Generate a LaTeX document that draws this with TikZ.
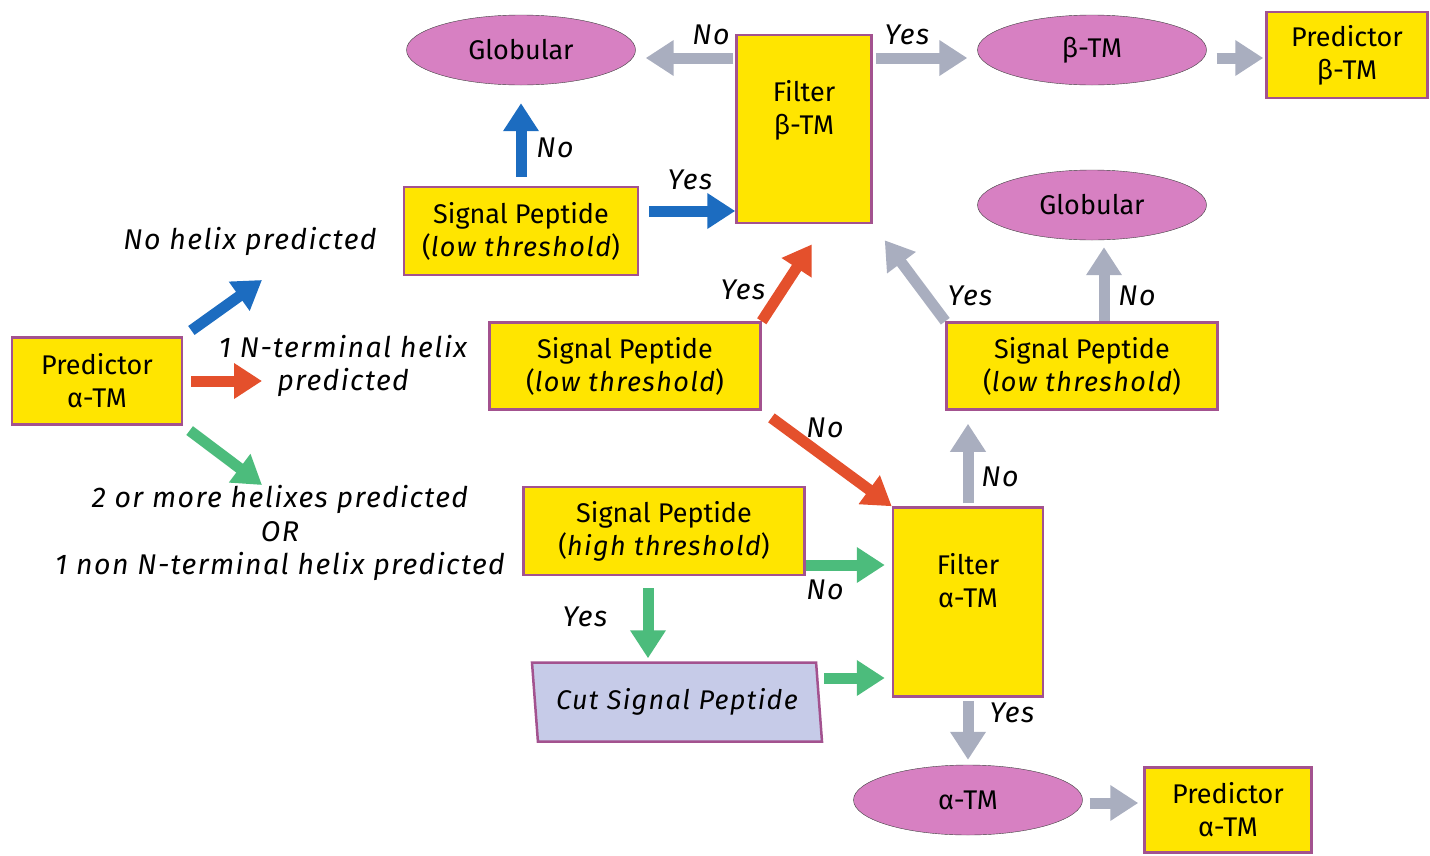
\documentclass[tikz,border=0pt]{standalone}
\usepackage{fontspec}
\setmainfont{Fira Sans}
\newfontfamily\lblfont[LetterSpace=5.0]{Fira Sans}
\usetikzlibrary{arrows.meta,shapes.geometric}

\definecolor{boxyellow}{HTML}{FFE500}
\definecolor{boxedge}{HTML}{A3528F}
\definecolor{ovalpink}{HTML}{D780C2}
\definecolor{cutblue}{HTML}{C6CBE8}
\definecolor{arrblue}{HTML}{1C6CC0}
\definecolor{arrred}{HTML}{E4502C}
\definecolor{arrgreen}{HTML}{4CBC7C}
\definecolor{arrgrey}{HTML}{A9AEBF}
\newcommand\diagfont{\fontsize{27}{33}\selectfont}
\newcommand\lblsize{\fontsize{28.5}{33.5}\selectfont}
\newcommand\slant[1]{{\lblfont\itshape #1}}

\begin{document}
\begin{tikzpicture}[x=1pt,y=-1pt,
      box/.style = {draw=boxedge, line width=2.5pt, fill=boxyellow, align=center, font=\diagfont},
      oval/.style = {ellipse, draw=black!75, thin, fill=ovalpink, minimum width=229pt, minimum height=70pt, font=\diagfont},
      flow/.style = {line width=11pt, -{Triangle[width=34pt,length=28pt]}},
      lbl/.style = {align=center, inner sep=0pt, font=\lblsize\lblfont\itshape}]
  \useasboundingbox (0,0) rectangle (1430,855);

  % Predictor alpha-TM (start)
  \node[box, minimum width=170pt, minimum height=87pt] (PA) at (97,381) {Predictor\\α-TM};

  % Top row
  \node[oval] (GB) at (521,50) {Globular};
  \node[box, minimum width=135pt, minimum height=188pt] (FB) at (804,129) {Filter\\β-TM\\\strut};
  \node[oval] (BT) at (1092,50) {β-TM};
  \node[box, minimum width=161pt, minimum height=86pt] (PB) at (1347,55) {Predictor\\β-TM};

  % Signal peptide boxes
  \node[box, minimum width=234pt, minimum height=88pt] (S1) at (521,231) {Signal Peptide\\(\slant{low threshold})};
  \node[oval] (GA) at (1092,205) {Globular};
  \node[box, minimum width=271pt, minimum height=87pt] (S2) at (625,366) {Signal Peptide\\(\slant{low threshold})};
  \node[box, minimum width=271pt, minimum height=87pt] (S3) at (1082,366) {Signal Peptide\\(\slant{low threshold})};
  \node[box, minimum width=281pt, minimum height=88pt] (S4) at (664,531) {Signal Peptide\\(\slant{high threshold})};

  % Filter alpha-TM and below
  \node[box, minimum width=150pt, minimum height=189pt] (FA) at (968,602) {Filter\\α-TM\\\strut};
  \node[trapezium, trapezium left angle=100, trapezium right angle=80, trapezium stretches body,
        draw=boxedge, line width=2.5pt, fill=cutblue, minimum width=290pt, minimum height=79pt,
        font=\diagfont\lblfont\itshape] (CS) at (677,702) {Cut Signal Peptide};
  \node[oval] (AT) at (968,800) {α-TM};
  \node[box, minimum width=167pt, minimum height=85pt] (PC) at (1228,810) {Predictor\\α-TM};

  % Branch texts
  \node[lbl] (t1) at (250,241) {No helix predicted};
  \node[lbl] (t2) at (343,366) {1 N-terminal helix\\predicted};
  \node[lbl] (t3) at (280,533) {2 or more helixes predicted\\OR\\1 non N-terminal helix predicted};
  \coordinate (e1) at (262,280);
  \coordinate (e2) at (262,381);
  \coordinate (e3) at (262,485);

  % Arrows from the predictor
  \draw[flow, arrblue, shorten <=10pt] (PA.north east) -- (e1);
  \draw[flow, arrred, shorten <=8pt] (PA.east) -- (e2);
  \draw[flow, arrgreen, shorten <=8pt] (PA.south east) -- (e3);

  % Blue branch
  \draw[flow, arrblue, shorten <=9pt, shorten >=18pt] (S1.north) -- (GB.south);
  \draw[flow, arrblue, shorten <=10pt] ([yshift=20pt]S1.east) -- ([yshift=20pt]S1.east -| FB.west);
  \node[lbl] (n1) at (555,148) {No};
  \node[lbl] (y1) at (690,180) {Yes};

  % Out of filter beta-TM
  \draw[flow, arrgrey, shorten <=2pt, shorten >=10pt] ([yshift=71pt]FB.west) -- ([yshift=71pt]FB.west -| GB.east);
  \draw[flow, arrgrey, shorten <=3pt, shorten >=10pt] ([yshift=71pt]FB.east) -- ([yshift=71pt]FB.east -| BT.west);
  \draw[flow, arrgrey, shorten <=10pt, shorten >=2pt] ([yshift=-8pt]BT.east) -- ([yshift=-8pt]BT.east -| PB.west);
  \node[lbl] (n2) at (711,35) {No};
  \node[lbl] (y2) at (907,35) {Yes};

  % Red branch
  \draw[flow, arrred, shorten >=24pt] (S2.north east) -- ([xshift=21pt]FB.south);
  \draw[flow, arrred, shorten <=12pt] (S2.south east) -- (FA.north west);
  \node[lbl] (y3) at (743,290) {Yes};
  \node[lbl] (n3) at (825,428) {No};

  % Grey branch
  \draw[flow, arrgrey, shorten >=20pt] (S3.north west) -- (FB.south east);
  \draw[flow, arrgrey, shorten >=7pt] ([xshift=22pt]S3.north) -- ([xshift=22pt]S3.north |- GA.south);
  \draw[flow, arrgrey, shorten <=3pt, shorten >=13pt] (FA.north) -- (FA.north |- S3.south);
  \node[lbl] (y4) at (970,296) {Yes};
  \node[lbl] (n4) at (1137,296) {No};
  \node[lbl] (n5) at (1000,477) {No};

  % Green branch
  \draw[flow, arrgreen, shorten >=7pt] ([yshift=-34pt]S4.east) -- ([yshift=-34pt]S4.east -| FA.west);
  \draw[flow, arrgreen, shorten <=12pt, shorten >=3pt] ([xshift=-16pt]S4.south) -- ([xshift=-16pt]S4.south |- CS.north);
  \draw[flow, arrgreen, shorten <=4pt, shorten >=7pt] ([yshift=24pt]CS.east) -- ([yshift=24pt]CS.east -| FA.west);
  \node[lbl] (n6) at (825,590) {No};
  \node[lbl] (y6) at (585,617) {Yes};

  % Out of filter alpha-TM
  \draw[flow, arrgrey, shorten <=3pt, shorten >=5pt] (FA.south) -- (AT.north);
  \draw[flow, arrgrey, shorten <=7pt, shorten >=5pt] ([yshift=-3pt]AT.east) -- ([yshift=-3pt]AT.east -| PC.west);
  \node[lbl] (y7) at (1012,713) {Yes};
\end{tikzpicture}
\end{document}
